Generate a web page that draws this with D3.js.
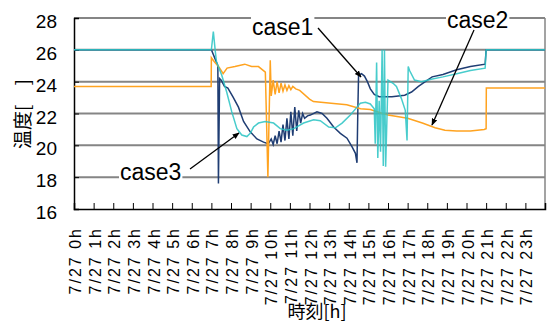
<!DOCTYPE html>
<html>
<head>
<meta charset="utf-8">
<script src="https://cdn.jsdelivr.net/npm/d3@7"></script>
<style>
body { margin:0; background:#fff; }
svg { display:block; }
</style>
</head>
<body>
<div id="chart"></div>
<script>

// hour labels on the x axis
var hour_labels = ['7/27 0h','7/27 1h','7/27 2h','7/27 3h','7/27 4h','7/27 5h','7/27 6h','7/27 7h','7/27 8h','7/27 9h','7/27 10h','7/27 11h',
	'7/27 12h','7/27 13h','7/27 14h','7/27 15h','7/27 16h','7/27 17h','7/27 18h','7/27 19h','7/27 20h','7/27 21h','7/27 22h','7/27 23h'];
var temp_ticks = [16,18,20,22,24,26,28];

// case1 (navy)
var case1_time = [0,7.0,7.2,7.33,7.36,7.42,7.5,7.67,7.84,8.1,8.38,8.64,8.98,9.32,9.66,9.9,
	10.05,10.15,10.25,10.35,10.45,10.55,10.65,10.75,10.85,10.95,11.05,11.15,11.25,11.35,11.45,11.55,11.65,11.75,11.9,
	12.04,12.38,12.64,12.89,13.23,13.57,13.91,14.17,14.34,14.42,14.46,14.5,14.65,14.8,14.95,15.1,15.3,15.55,16.2,16.85,
	17.2,17.55,17.9,18.25,18.8,19.5,20.2,20.95,21.0,24];
var case1_temp = [26,26,25.4,25.0,17.6,24.2,24.1,23.7,23.6,23.05,22.4,21.5,20.85,20.4,20.2,20.1,
	20.4,20.05,20.6,20.1,20.9,20.2,21.3,20.3,21.7,20.4,22.1,20.6,22.4,20.9,22.2,21.4,22.0,21.7,21.85,
	21.9,22.1,22.0,21.7,21.15,20.75,20.45,19.9,19.5,18.9,22.0,24.4,24.5,24.35,24.0,23.55,23.2,23.05,23.05,23.15,
	23.35,23.7,24.0,24.3,24.45,24.75,24.95,25.1,26,26];

// case2 (orange)
var case2_time = [0,6.99,7.0,7.15,7.4,7.6,7.8,8.2,8.7,9.05,9.4,9.75,9.88,10.0,
	10.05,10.15,10.25,10.35,10.45,10.55,10.65,10.75,10.85,10.95,11.05,11.15,11.3,11.5,12.0,12.2,
	13.1,13.9,14.6,15.1,15.6,16.0,17.0,17.75,18.4,18.9,19.5,20.2,20.9,21.0,21.01,24];
var case2_temp = [23.7,23.7,25.5,25.25,24.9,24.5,24.85,24.95,25.1,24.95,24.95,24.6,18.0,25.35,
	23.1,24.1,23.2,24.0,23.3,23.9,23.4,23.8,23.45,23.75,23.5,23.7,23.55,23.45,22.9,22.75,
	22.65,22.55,22.3,22.25,22.05,21.9,21.7,21.4,21.1,20.95,20.9,20.9,21.0,21.05,23.6,23.6];

// case3 (turquoise)
var case3_time = [0,7.0,7.1,7.2,7.26,7.53,7.78,8.04,8.3,8.55,8.81,8.98,9.15,9.4,9.74,10.17,10.51,10.85,11.2,11.7,
	12.21,12.55,12.98,13.32,13.66,14.08,14.42,14.59,14.85,15.1,15.3,
	15.35,15.42,15.48,15.55,15.62,15.7,15.76,15.82,15.88,16.0,16.26,16.43,16.68,16.88,16.97,17.03,17.1,17.35,17.7,
	18.2,18.8,19.5,20.2,20.95,21.0,24];
var case3_temp = [26,26,27.15,25.9,25.25,24.4,23.35,22.1,21.05,20.65,20.55,20.75,21.15,21.4,21.5,21.4,21.05,20.95,21.05,21.4,
	21.6,21.55,21.15,21.1,21.4,21.9,22.4,22.65,22.7,22.6,22.3,
	20.1,25.2,19.2,22.8,19.6,26,18.7,26,18.65,24.1,23.9,23.7,22.95,22.2,20.3,24.95,24.7,24.1,24.0,
	24.15,24.3,24.5,24.7,24.85,26,26];

var width = 547, height = 322;
var font = '"Liberation Sans", Arial, sans-serif';
var jfont = '"Noto Sans CJK JP", sans-serif';

var svg = d3.select('#chart').append('svg')
	.attr('width', width)
	.attr('height', height);

var x = d3.scaleLinear().domain([0,24]).range([74,545]);
var y = d3.scaleLinear().domain([16,28]).range([209,18]);

svg.append('defs').append('marker')
	.attr('id','arrow')
	.attr('viewBox','0 0 10 10')
	.attr('refX',9).attr('refY',5)
	.attr('markerWidth',7).attr('markerHeight',7)
	.attr('markerUnits','userSpaceOnUse')
	.attr('orient','auto')
	.append('path')
	.attr('d','M0,1 L10,5 L0,9 Z')
	.attr('fill','black');

// grid lines
svg.append('g').selectAll('line')
	.data(temp_ticks.slice(1))
	.enter().append('line')
	.attr('x1', x(0)).attr('x2', x(24))
	.attr('y1', function(d){ return y(d); })
	.attr('y2', function(d){ return y(d); })
	.attr('stroke','#858585')
	.attr('stroke-width',2);
svg.append('line')
	.attr('x1', x(24)).attr('x2', x(24))
	.attr('y1', y(28)).attr('y2', y(16))
	.attr('stroke','#858585')
	.attr('stroke-width',1.5);

// axes
var xAxis = d3.axisBottom(x).tickValues(d3.range(0,25)).tickSize(-6).tickFormat('');
svg.append('g')
	.attr('transform','translate(0,' + y(16) + ')')
	.call(xAxis)
	.call(function(g){ g.select('.domain').attr('stroke','black').attr('stroke-width',1.5); })
	.selectAll('.tick line').attr('stroke','black');

var yAxis = d3.axisLeft(y).tickValues(temp_ticks).tickSize(-5).tickFormat('');
svg.append('g')
	.attr('transform','translate(' + x(0) + ',0)')
	.call(yAxis)
	.call(function(g){ g.select('.domain').attr('stroke','black').attr('stroke-width',1.5); })
	.selectAll('.tick line').attr('stroke','black');

svg.append('g').selectAll('text')
	.data(temp_ticks)
	.enter().append('text')
	.attr('x', 57)
	.attr('y', function(d){ return y(d) + 10; })
	.attr('text-anchor','end')
	.attr('font-family', font)
	.attr('font-size', 19)
	.text(function(d){ return d; });

svg.append('g').selectAll('text')
	.data(hour_labels)
	.enter().append('text')
	.attr('transform', function(d,i){ return 'translate(' + (x(i) + 7) + ',227) rotate(-90)'; })
	.attr('text-anchor','end')
	.attr('font-family', font)
	.attr('font-size', 16)
	.attr('letter-spacing', 2)
	.text(function(d){ return d; });

// titles
svg.append('text')
	.attr('transform','translate(30,114) rotate(-90)')
	.attr('text-anchor','middle')
	.attr('font-family', jfont)
	.attr('font-size', 19)
	.text('温度[　]');

svg.append('text')
	.attr('x', 317).attr('y', 318)
	.attr('text-anchor','middle')
	.attr('font-family', jfont)
	.attr('font-size', 18)
	.text('時刻[h]');

// series
var line = d3.line()
	.x(function(d){ return x(d[0]); })
	.y(function(d){ return y(d[1]); });

var series = [
	{ time: case1_time, temp: case1_temp, color: '#1f3d73', op: 1 },
	{ time: case2_time, temp: case2_temp, color: '#ffa320', op: 1 },
	{ time: case3_time, temp: case3_temp, color: 'rgb(45,196,196)', op: 0.87 }
];
series.forEach(function(s){
	svg.append('path')
		.datum(d3.zip(s.time, s.temp))
		.attr('d', line)
		.attr('fill','none')
		.attr('stroke', s.color)
		.attr('stroke-opacity', s.op)
		.attr('stroke-width',1.5);
});

// callouts
var notes = [
	{ label:'case1', tx:252, ty:35, x1:318, y1:28, x2:361, y2:77 },
	{ label:'case2', tx:447, ty:28, x1:474, y1:30, x2:432, y2:125 },
	{ label:'case3', tx:120, ty:180, x1:190, y1:169, x2:239, y2:133 }
];
notes.forEach(function(n){
	var g = svg.append('g');
	var r = g.append('rect').attr('fill','white');
	var t = g.append('text')
		.attr('x', n.tx).attr('y', n.ty)
		.attr('font-family', font)
		.attr('font-size', 23)
		.text(n.label);
	var b = t.node().getBBox();
	r.attr('x', b.x - 1).attr('y', b.y + 2).attr('width', b.width + 2).attr('height', b.height - 4);
	svg.append('line')
		.attr('x1', n.x1).attr('y1', n.y1)
		.attr('x2', n.x2).attr('y2', n.y2)
		.attr('stroke','black')
		.attr('stroke-width',1.3)
		.attr('marker-end','url(#arrow)');
});

</script>
</body>
</html>
